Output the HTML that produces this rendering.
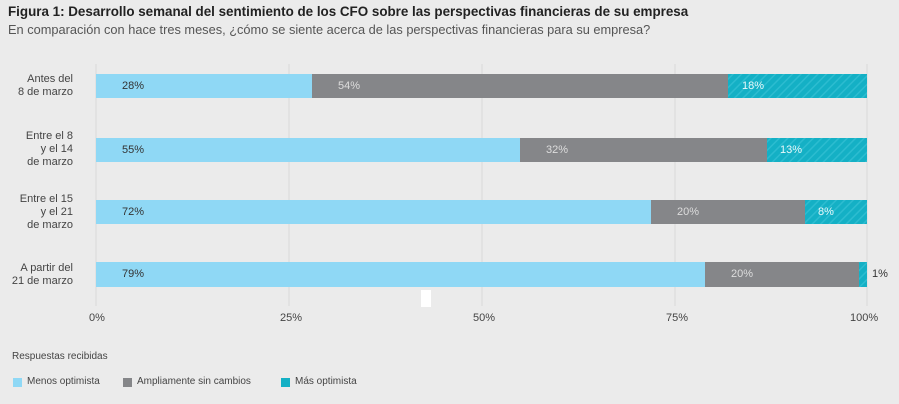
<!DOCTYPE html>
<html><head><meta charset="utf-8"><style>
body{margin:0;width:899px;height:404px;background:#ebebeb;font-family:"Liberation Sans",sans-serif;overflow:hidden;position:relative}
.t{position:absolute;white-space:nowrap}
</style></head><body>
<svg width="899" height="404" style="position:absolute;left:0;top:0">
<defs><pattern id="h" width="6" height="6" patternUnits="userSpaceOnUse" patternTransform="rotate(-45)">
<rect width="6" height="6" fill="#14b0c5"/><rect width="6" height="1.5" fill="#2cbcd0"/></pattern></defs>
<g stroke="#d8d8d8" stroke-width="1">
<line x1="96" y1="64" x2="96" y2="306"/><line x1="289" y1="64" x2="289" y2="306"/>
<line x1="482" y1="64" x2="482" y2="306"/><line x1="675" y1="64" x2="675" y2="306"/>
<line x1="867" y1="64" x2="867" y2="306"/></g>
<g>
<rect x="96" y="74" width="216" height="24" fill="#8fd8f5"/><rect x="312" y="74" width="416" height="24" fill="#858689"/><rect x="728" y="74" width="139" height="24" fill="url(#h)"/>
<rect x="96" y="138" width="424" height="24" fill="#8fd8f5"/><rect x="520" y="138" width="247" height="24" fill="#858689"/><rect x="767" y="138" width="100" height="24" fill="url(#h)"/>
<rect x="96" y="200" width="555" height="24" fill="#8fd8f5"/><rect x="651" y="200" width="154" height="24" fill="#858689"/><rect x="805" y="200" width="62" height="24" fill="url(#h)"/>
<rect x="96" y="262" width="609" height="25" fill="#8fd8f5"/><rect x="705" y="262" width="154" height="25" fill="#858689"/><rect x="859" y="262" width="8" height="25" fill="url(#h)"/>
</g>
<rect x="421" y="290" width="10" height="17" fill="#fff"/>
<rect x="13" y="378" width="9" height="9" fill="#8fd8f5"/><rect x="123" y="378" width="9" height="9" fill="#858689"/><rect x="281" y="378" width="9" height="9" fill="#14b0c5"/>
</svg>
<div class="t" style="left:8px;top:4px;font-size:13.4px;font-weight:bold;color:#222">Figura 1: Desarrollo semanal del sentimiento de los CFO sobre las perspectivas financieras de su empresa</div>
<div class="t" style="left:8px;top:22px;font-size:12.8px;color:#555">En comparación con hace tres meses, ¿cómo se siente acerca de las perspectivas financieras para su empresa?</div>
<div class="t" style="left:0;width:73px;top:73px;font-size:11px;color:#444;text-align:right;line-height:13px">Antes del<br>8 de marzo</div>
<div class="t" style="left:0;width:73px;top:130px;font-size:11px;color:#444;text-align:right;line-height:13px">Entre el 8<br>y el 14<br>de marzo</div>
<div class="t" style="left:0;width:73px;top:193px;font-size:11px;color:#444;text-align:right;line-height:13px">Entre el 15<br>y el 21<br>de marzo</div>
<div class="t" style="left:0;width:73px;top:262px;font-size:11px;color:#444;text-align:right;line-height:13px">A partir del<br>21 de marzo</div>
<div class="t" style="left:122px;top:80px;font-size:11px;color:#333">28%</div>
<div class="t" style="left:338px;top:80px;font-size:11px;color:#ddd">54%</div>
<div class="t" style="left:742px;top:80px;font-size:11px;color:#e8f8fa">18%</div>
<div class="t" style="left:122px;top:144px;font-size:11px;color:#333">55%</div>
<div class="t" style="left:546px;top:144px;font-size:11px;color:#ddd">32%</div>
<div class="t" style="left:780px;top:144px;font-size:11px;color:#e8f8fa">13%</div>
<div class="t" style="left:122px;top:206px;font-size:11px;color:#333">72%</div>
<div class="t" style="left:677px;top:206px;font-size:11px;color:#ddd">20%</div>
<div class="t" style="left:818px;top:206px;font-size:11px;color:#e8f8fa">8%</div>
<div class="t" style="left:122px;top:268px;font-size:11px;color:#333">79%</div>
<div class="t" style="left:731px;top:268px;font-size:11px;color:#ddd">20%</div>
<div class="t" style="left:872px;top:268px;font-size:11px;color:#333">1%</div>
<div class="t" style="left:89px;top:312px;font-size:11px;color:#444">0%</div>
<div class="t" style="left:280px;top:312px;font-size:11px;color:#444">25%</div>
<div class="t" style="left:473px;top:312px;font-size:11px;color:#444">50%</div>
<div class="t" style="left:666px;top:312px;font-size:11px;color:#444">75%</div>
<div class="t" style="left:850px;top:312px;font-size:11px;color:#444">100%</div>
<div class="t" style="left:12px;top:351px;font-size:10px;color:#444">Respuestas recibidas</div>
<div class="t" style="left:27px;top:376px;font-size:10px;color:#444">Menos optimista</div>
<div class="t" style="left:137px;top:376px;font-size:10px;color:#444">Ampliamente sin cambios</div>
<div class="t" style="left:295px;top:376px;font-size:10px;color:#444">Más optimista</div>
</body></html>
